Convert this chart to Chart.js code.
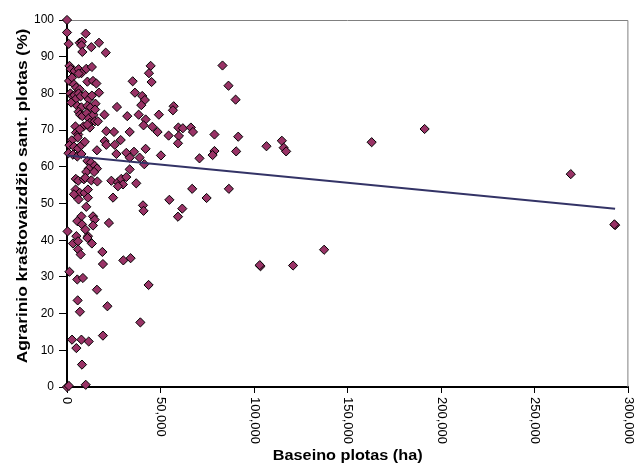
<!DOCTYPE html>
<html>
<head>
<meta charset="utf-8">
<script src="https://cdn.jsdelivr.net/npm/chart.js@4.4.1/dist/chart.umd.min.js"></script>
<style>
  html, body { margin: 0; padding: 0; background: #fff; }
  #wrap { width: 634px; height: 471px; }
</style>
</head>
<body>
<div id="wrap"><canvas id="chart" width="634" height="471"></canvas></div>
<script>
// Baseino plotas (ha) ir agrarinio kraštovaizdžio dalis (%)
const basinArea = [
  0, 0, 10000, 900, 6800, 8000, 7700, 13000, 17100, 8200, 20700,
  1300, 2000, 4100, 6200, 7700, 6200, 10300, 13300,
  1100, 2700, 3700, 5000, 6800, 10900, 13900, 15700, 17100,
  1800, 3000, 4000, 5000, 6200, 7300, 9800, 11600, 13300,
  2200, 5500, 7700, 10900, 12600, 15200, 26700, 32200,
  6200, 7000, 8200, 10600, 11600, 14100, 15000, 20000, 12200, 14900,
  4500, 8800, 12200, 10900, 16500,
  4800, 6000, 5700, 6800, 2500, 1300, 3700, 5900, 7700, 9500,
  21000, 25100, 20100, 21000, 25500, 28700, 33500,
  800, 3200, 5500, 7700, 16000, 26400, 35800,
  10900, 12800, 14700, 11600, 10300, 16000, 14500,
  4700, 6000, 9000, 9800, 13000, 16200, 23700, 27200, 29000, 31700, 29900, 27200,
  31700, 33500,
  4600, 6800, 3700, 9400, 11200, 11200, 6200, 24600, 10300,
  300, 7700, 5500, 8000, 13900, 14800, 13900, 22400,
  5000, 11200, 3200, 5900, 5900, 7300, 9800, 10900, 13300, 18900,
  19200, 30100, 34000, 1300, 5500, 8500, 16000, 5700, 6900, 21600, 39200,
  2700, 7700, 11600, 5000, 19200, 8000, 0, 1000, 10000,
  44700, 43800, 45200, 35100, 36300, 40200, 41600, 39700,
  83100, 86300, 90100, 57000, 56600, 49100, 38300,
  42000, 40900, 45600, 48400, 59500, 61900, 66200, 67300,
  54300, 59800, 59300, 78800, 91500, 106600,
  42000, 38800, 41300, 50200, 70800, 78800, 77800, 90400,
  33500, 37000, 66900, 86500,
  54700, 74600, 40600, 40900, 61600, 59300, 43600,
  103400, 103000, 120800, 137400,
  114800, 115800, 117100, 162800, 191100, 269200, 292900, 292500
];
const agrarianShare = [
  100, 96.6, 96.3, 93.5, 93.8, 94.1, 93.1, 92.6, 93.8, 91.3, 91.1,
  87.5, 86.6, 86.1, 86.6, 85.5, 85.4, 86.7, 87.2,
  83.4, 84.3, 82.5, 81.6, 81.1, 83.2, 83.4, 82.7, 80.2,
  80, 79.2, 79.5, 78.6, 80, 79.2, 79.6, 78.4, 79.4,
  77.5, 76.6, 76.2, 76.6, 76.2, 77.2, 76.3, 73.8,
  75, 74.2, 73.8, 74.6, 73.2, 74.2, 75.6, 74.2, 72, 72.4,
  71, 71, 70.7, 71.5, 72.4,
  69.3, 68.8, 68, 70.2, 67.2, 65.9, 65.5, 65, 65.9, 66.8,
  69.7, 69.5, 67, 66, 66, 67.3, 69.5,
  63.7, 63.3, 62.8, 63.5, 64.5, 63.5, 64.1,
  61.6, 61.2, 60.3, 59.5, 58.6, 59.5, 58.6,
  56.7, 56.2, 56.6, 57, 56.3, 56, 56.2, 55.8, 56.7, 57.2, 55.2, 54.7,
  63.8, 62.5,
  53.8, 52.9, 52.5, 52.9, 53.8, 51.6, 51.1, 51.6, 49.1,
  42.4, 46.5, 45.2, 44.3, 46.5, 45.6, 44, 44.7,
  41.1, 41.1, 39.1, 39.7, 37.5, 36.1, 42.9, 40.6, 39.1, 36.8,
  33.5, 34.5, 35.1, 31.4, 29.3, 29.7, 26.5, 23.6, 20.5, 22, 17.6,
  12.9, 12.9, 12.4, 10.6, 14, 6.1, 0, 0.3, 0.6,
  87.5, 85.5, 83.1, 83.3, 80.2, 79.3, 78.2, 76.8,
  87.6, 82.1, 78.3, 76.5, 75.4, 74.2, 74.2,
  72.9, 71.3, 70.9, 69.5, 70.7, 70.5, 70.7, 69.5,
  68.5, 68.4, 66.4, 68.8, 68.2, 65.6,
  64.9, 62.5, 60.7, 63.1, 62.3, 64.3, 63.2, 64.2,
  59.3, 55.5, 54, 54,
  51, 51.5, 49.5, 48, 48.6, 46.4, 27.8,
  32.9, 33.2, 33.1, 37.4,
  67.1, 65.2, 64.2, 66.7, 70.3, 58, 44.1, 44.3
];

// tiesinė tendencija (galai nuskaityti nuo paveikslo)
const trendX = [0, 292900];
const trendY = [63.1, 48.6];

const xTicks = [0, 50000, 100000, 150000, 200000, 250000, 300000];
const yTicks = [0, 10, 20, 30, 40, 50, 60, 70, 80, 90, 100];

const xTitle = 'Baseino plotas (ha)';
const yTitle = 'Agrarinio kraštovaizdžio sant. plotas (%)';

const fmt = v => v.toLocaleString('en-US');
const FONT = '"Liberation Sans", Arial, sans-serif';

const points = basinArea.map((x, i) => ({ x: x, y: agrarianShare[i] }));
const trend = trendX.map((x, i) => ({ x: x, y: trendY[i] }));

// x ašies žymės pasuktos pagal laikrodžio rodyklę + ašių pavadinimai
const axisText = {
  id: 'axisText',
  afterDraw(chart) {
    const sc = chart.scales.x;
    const a = chart.chartArea;
    const ctx = chart.ctx;
    ctx.save();
    ctx.fillStyle = '#000';
    ctx.font = '13px ' + FONT;
    ctx.textAlign = 'left';
    ctx.textBaseline = 'middle';
    sc.ticks.forEach(t => {
      const px = sc.getPixelForValue(t.value);
      ctx.save();
      ctx.translate(px, sc.top + 10);
      ctx.rotate(Math.PI / 2);
      ctx.fillText(fmt(t.value), 0, 0);
      ctx.restore();
    });

    ctx.font = 'bold 14px ' + FONT;
    ctx.textAlign = 'center';
    ctx.save();
    ctx.translate((a.left + a.right) / 2, 456);
    ctx.scale(1.16, 1);
    ctx.fillText(xTitle, 0, 0);
    ctx.restore();

    ctx.save();
    ctx.translate(23, 196);
    ctx.rotate(-Math.PI / 2);
    ctx.scale(1.24, 1);
    ctx.fillText(yTitle, 0, 0);
    ctx.restore();
    ctx.restore();
  }
};

// pilkas braižymo srities rėmelis viršuje ir dešinėje
const plotBorder = {
  id: 'plotBorder',
  beforeDatasetsDraw(chart) {
    const a = chart.chartArea;
    const ctx = chart.ctx;
    ctx.save();
    ctx.strokeStyle = '#808080';
    ctx.lineWidth = 1;
    ctx.beginPath();
    ctx.moveTo(a.left, a.top + 0.5);
    ctx.lineTo(a.right - 0.5, a.top + 0.5);
    ctx.lineTo(a.right - 0.5, a.bottom);
    ctx.stroke();
    ctx.restore();
  }
};

new Chart(document.getElementById('chart'), {
  type: 'scatter',
  data: {
    datasets: [
      {
        data: points,
        pointStyle: 'rectRot',
        pointRadius: 4.6,
        pointHoverRadius: 4.6,
        backgroundColor: '#993366',
        borderColor: '#000',
        borderWidth: 1,
        clip: false,
        order: 2
      },
      {
        type: 'line',
        data: trend,
        borderColor: '#333366',
        borderWidth: 2,
        pointRadius: 0,
        fill: false,
        order: 1
      }
    ]
  },
  options: {
    responsive: false,
    animation: false,
    events: [],
    layout: { padding: { top: 20, right: 5, left: 0, bottom: 0 } },
    plugins: { legend: { display: false }, tooltip: { enabled: false } },
    scales: {
      x: {
        type: 'linear',
        min: 0,
        max: 300000,
        afterBuildTicks: s => { s.ticks = xTicks.map(v => ({ value: v })); },
        afterFit: s => { s.height = 84; },
        border: { color: '#000', width: 2 },
        grid: { drawOnChartArea: false, drawTicks: true, tickLength: 6, color: '#000' },
        ticks: { display: false }
      },
      y: {
        min: 0,
        max: 100,
        afterBuildTicks: s => { s.ticks = yTicks.map(v => ({ value: v })); },
        afterFit: s => { s.width = 67; },
        border: { color: '#000', width: 2 },
        grid: { drawOnChartArea: false, drawTicks: true, tickLength: 8, color: '#000' },
        ticks: {
          color: '#000',
          padding: 5,
          font: { family: FONT, size: 12 }
        }
      }
    }
  },
  plugins: [plotBorder, axisText]
});
</script>
</body>
</html>
